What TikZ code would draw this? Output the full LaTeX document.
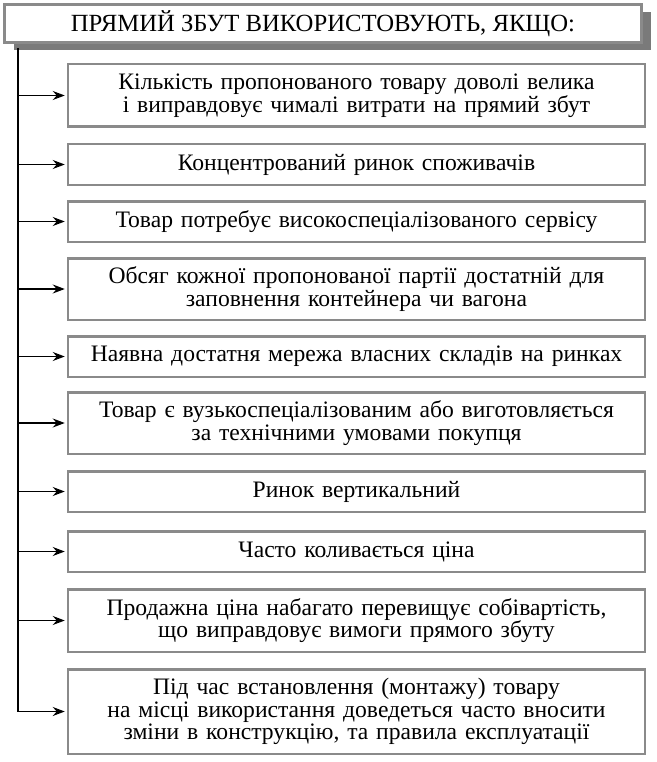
\documentclass[tikz,border=0pt]{standalone}
\usepackage{fontspec}
\setmainfont{Liberation Serif}
\usepackage{tikz}
\usetikzlibrary{positioning, shadows, arrows.meta}
\definecolor{framegray}{HTML}{8A8A8A}
\definecolor{shadegray}{HTML}{7A7A7A}
\tikzset{
	headnode/.style={
			rectangle,
			draw=framegray,
			line width=3pt,
			fill=white,
			minimum width=637pt,
			minimum height=38pt,
			inner sep=0pt,
			font=\fontsize{24.7}{26}\selectfont,
			drop shadow={shadow xshift=9pt, shadow yshift=-8pt, fill=shadegray, opacity=1}
		},
	itemnode/.style={
			rectangle,
			draw=framegray,
			line width=2.5pt,
			fill=white,
			minimum width=577pt,
			text width=570pt,
			align=center,
			inner sep=0pt,
			font=\fontsize{23.6}{22.5}\selectfont
		},
	feed/.style={
			line width=1.2pt,
			shorten >=2pt,
			-{Stealth[length=12pt, width=9pt, inset=4pt]}
		}
}

\begin{document}
\begin{tikzpicture}[x=1pt, y=-1pt]
\useasboundingbox (0,0) rectangle (656,762);
\node[headnode] (hd) at (323,23.5) {ПРЯМИЙ ЗБУТ ВИКОРИСТОВУЮТЬ, ЯКЩО:};

\node[itemnode, minimum height=62.5pt] (b1) at (356.5,95.5) {Кількість пропонованого товару доволі велика\\ і виправдовує чималі витрати на прямий збут};
\node[itemnode, minimum height=40.5pt] (b2) at (356.5,164.5) {Концентрований ринок споживачів};
\node[itemnode, minimum height=40.5pt] (b3) at (356.5,221.5) {Товар потребує високоспеціалізованого сервісу};
\node[itemnode, minimum height=61.5pt] (b4) at (356.5,289) {Обсяг кожної пропонованої партії достатній для\\ заповнення контейнера чи вагона};
\node[itemnode, minimum height=40.5pt] (b5) at (356.5,356.5) {Наявна достатня мережа власних складів на ринках};
\node[itemnode, minimum height=61.5pt] (b6) at (356.5,423) {Товар є вузькоспеціалізованим або виготовляється\\ за технічними умовами покупця};
\node[itemnode, minimum height=40.5pt] (b7) at (356.5,491.5) {Ринок вертикальний};
\node[itemnode, minimum height=40.5pt] (b8) at (356.5,551.5) {Часто коливається ціна};
\node[itemnode, minimum height=62.5pt] (b9) at (356.5,620.5) {Продажна ціна набагато перевищує собівартість,\\ що виправдовує вимоги прямого збуту};
\node[itemnode, minimum height=84.5pt] (b10) at (356.5,711.5) {Під час встановлення (монтажу) товару\\ на місці використання доведеться часто вносити\\ зміни в конструкцію, та правила експлуатації};

\coordinate (trunk) at (18,48);
\draw[line width=1.2pt] (trunk) -- (b10.west -| trunk);

\draw[feed] (b1.west -| trunk) -- (b1.west);
\draw[feed] (b2.west -| trunk) -- (b2.west);
\draw[feed] (b3.west -| trunk) -- (b3.west);
\draw[feed] (b4.west -| trunk) -- (b4.west);
\draw[feed] (b5.west -| trunk) -- (b5.west);
\draw[feed] (b6.west -| trunk) -- (b6.west);
\draw[feed] (b7.west -| trunk) -- (b7.west);
\draw[feed] (b8.west -| trunk) -- (b8.west);
\draw[feed] (b9.west -| trunk) -- (b9.west);
\draw[feed] (b10.west -| trunk) -- (b10.west);
\end{tikzpicture}
\end{document}
